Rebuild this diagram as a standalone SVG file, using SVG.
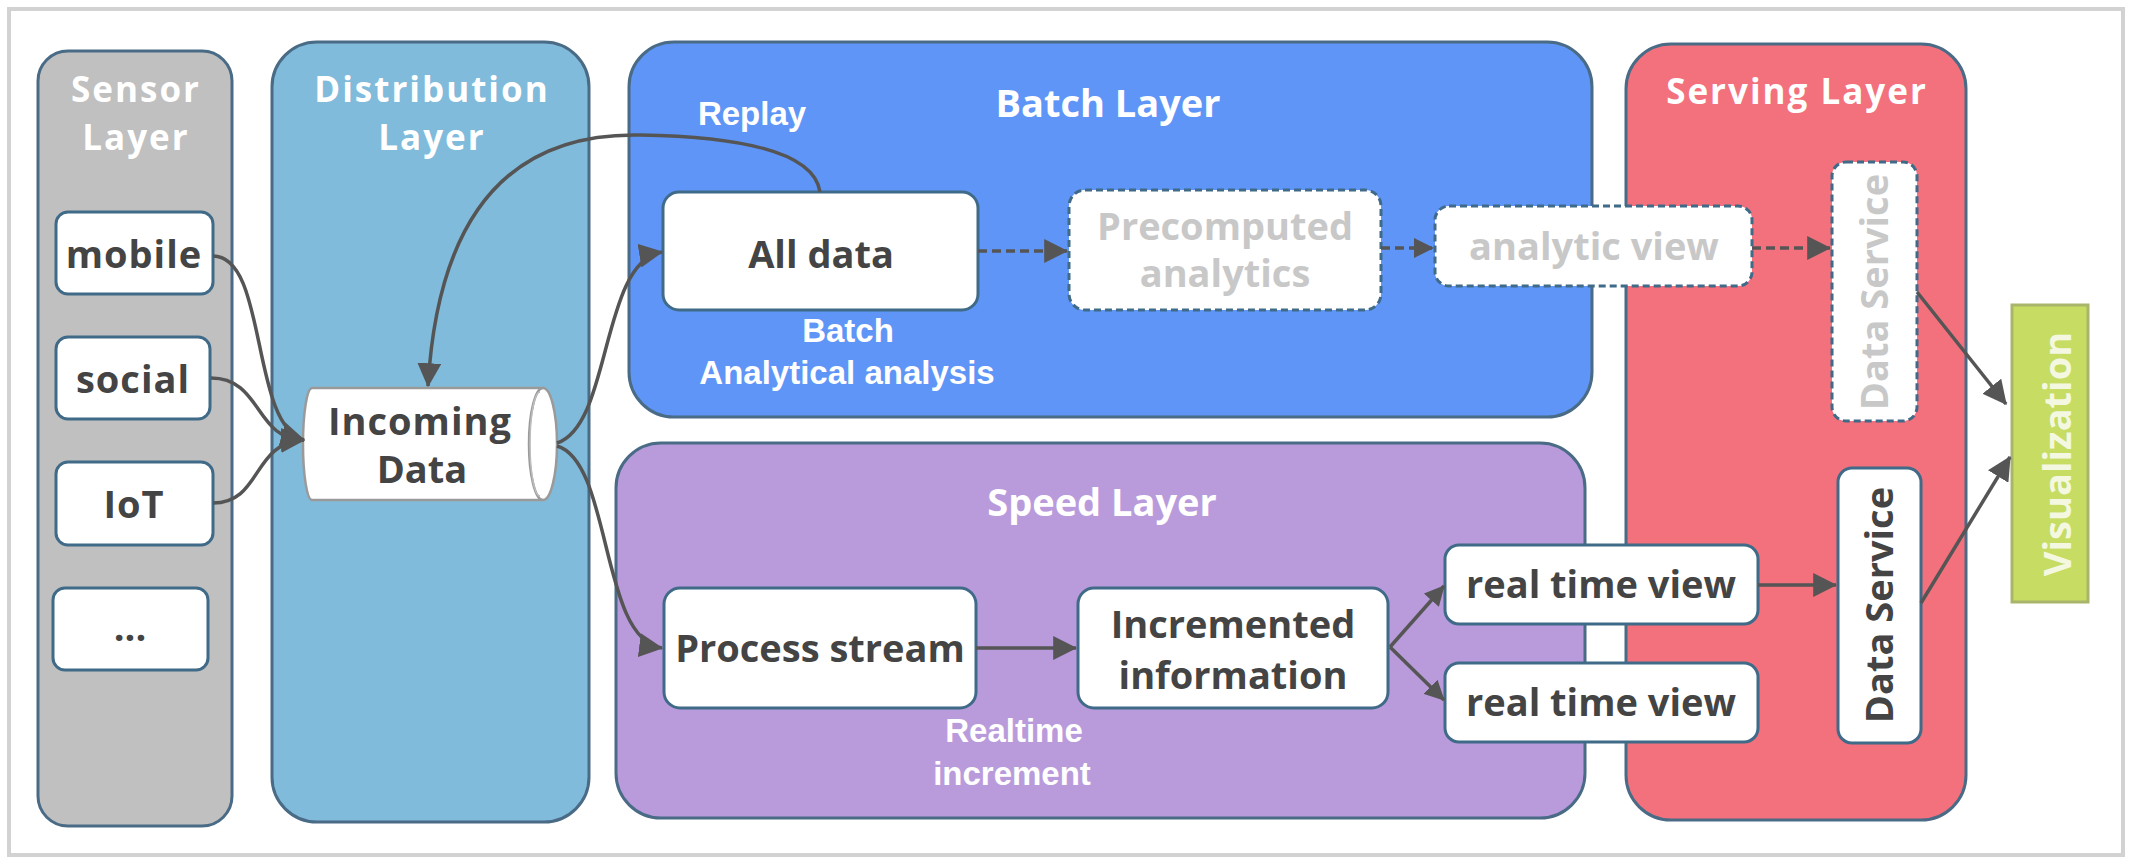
<svg xmlns="http://www.w3.org/2000/svg" width="2132" height="863" viewBox="0 0 2132 863">
<defs>
<marker id="arr" viewBox="0 0 20 20" refX="19" refY="10" markerWidth="24" markerHeight="24" markerUnits="userSpaceOnUse" orient="auto">
<path d="M0,0 L20,10 L0,20 Z" fill="#555"/>
</marker>
<marker id="arrs" viewBox="0 0 20 20" refX="19" refY="10" markerWidth="20" markerHeight="20" markerUnits="userSpaceOnUse" orient="auto">
<path d="M0,0 L20,10 L0,20 Z" fill="#555"/>
</marker>
</defs>
<style>
.layer{stroke:#4a6b86;stroke-width:3}
.box{fill:#fff;stroke:#3f6a88;stroke-width:3}
.dbox{fill:#fff;stroke:#3f6a88;stroke-width:3;stroke-dasharray:7 4}
.title{font-family:"Open Sans","Noto Sans",sans-serif;font-weight:bold;font-size:38px;fill:#fff;text-anchor:middle}
.title2{font-family:"Open Sans","Noto Sans",sans-serif;font-weight:bold;font-size:35px;letter-spacing:2px;fill:#fff;text-anchor:middle}
.note{font-family:"Liberation Sans",Arial,sans-serif;font-weight:bold;font-size:33px;fill:#fff;text-anchor:middle}
.lbl{font-family:"Open Sans","Noto Sans",sans-serif;font-weight:bold;font-size:38px;fill:#444;text-anchor:middle}
.glbl{font-family:"Open Sans","Noto Sans",sans-serif;font-weight:bold;font-size:38px;fill:#c8c8c8;text-anchor:middle}
.con{fill:none;stroke:#555;stroke-width:3.5}
.dcon{fill:none;stroke:#555;stroke-width:3.5;stroke-dasharray:9 5}
</style>
<rect x="0" y="0" width="2132" height="863" fill="#fff"/>
<rect x="9" y="9" width="2114" height="846" fill="#fff" stroke="#d2d2d2" stroke-width="4"/>

<g id="sensor-layer">
<rect class="layer" x="38" y="51" width="194" height="775" rx="30" fill="#c0c0c0"/>
<text class="title2" x="136" y="102">Sensor</text>
<text class="title2" x="136" y="150">Layer</text>
</g>
<g id="distribution-layer">
<rect class="layer" x="272" y="42" width="317" height="780" rx="45" fill="#80bbdb"/>
<text class="title2" x="432" y="102">Distribution</text>
<text class="title2" x="432" y="150">Layer</text>
</g>
<g id="batch-layer">
<rect class="layer" x="629" y="42" width="963" height="375" rx="45" fill="#5f95f6"/>
<text class="title" x="1108" y="117">Batch Layer</text>
<text class="note" x="752" y="125">Replay</text>
<text class="note" x="848" y="342">Batch</text>
<text class="note" x="847" y="384">Analytical analysis</text>
</g>
<g id="speed-layer">
<rect class="layer" x="616" y="443" width="969" height="375" rx="45" fill="#b99bdc"/>
<text class="title" x="1102" y="516">Speed Layer</text>
<text class="note" x="1014" y="742">Realtime</text>
<text class="note" x="1012" y="785">increment</text>
</g>
<g id="serving-layer">
<rect class="layer" x="1626" y="44" width="340" height="776" rx="45" fill="#f2717d"/>
<text class="title2" x="1797" y="104">Serving Layer</text>
</g>

<g id="mobile"><rect class="box" x="56" y="212" width="157" height="82" rx="12"/><text class="lbl" x="134" y="268" letter-spacing="1">mobile</text></g>
<g id="social"><rect class="box" x="56" y="337" width="154" height="82" rx="12"/><text class="lbl" x="133" y="393" letter-spacing="1">social</text></g>
<g id="iot"><rect class="box" x="56" y="462" width="157" height="83" rx="12"/><text class="lbl" x="134" y="518" letter-spacing="1">IoT</text></g>
<g id="more"><rect class="box" x="53" y="588" width="155" height="82" rx="12"/><text class="lbl" x="130" y="641">...</text></g>

<g id="incoming-data">
<path d="M312,388 H543 A14,56 0 0 1 543,500 H312 A9,56 0 0 1 312,388 Z" fill="#fff" stroke="#9a9a9a" stroke-width="2.5"/>
<path d="M543,388 A14,56 0 0 0 543,500" fill="none" stroke="#9a9a9a" stroke-width="2.5"/>
<path d="M540,392 A10,52 0 0 0 540,496" fill="none" stroke="#bdbdbd" stroke-width="1.5"/>
<text class="lbl" x="420" y="435" letter-spacing="1">Incoming</text>
<text class="lbl" x="422" y="483">Data</text>
</g>

<g id="all-data"><rect class="box" x="663" y="192" width="315" height="118" rx="16"/><text class="lbl" x="821" y="268">All data</text></g>
<g id="precomputed"><rect class="dbox" x="1069" y="190" width="312" height="120" rx="16"/><text class="glbl" x="1225" y="240">Precomputed</text><text class="glbl" x="1225" y="287">analytics</text></g>
<g id="analytic-view"><rect class="dbox" x="1435" y="206" width="317" height="80" rx="14"/><text class="glbl" x="1594" y="260">analytic view</text></g>
<g id="data-service-batch"><rect class="dbox" x="1832" y="162" width="85" height="259" rx="14"/><text class="glbl" transform="translate(1888,292) rotate(-90)" x="0" y="0">Data Service</text></g>

<g id="process-stream"><rect class="box" x="664" y="588" width="312" height="120" rx="16"/><text class="lbl" x="820" y="662">Process stream</text></g>
<g id="incremented"><rect class="box" x="1078" y="588" width="310" height="120" rx="16"/><text class="lbl" x="1233" y="638">Incremented</text><text class="lbl" x="1233" y="689">information</text></g>
<g id="rt-view-1"><rect class="box" x="1445" y="545" width="313" height="79" rx="14"/><text class="lbl" x="1601" y="598">real time view</text></g>
<g id="rt-view-2"><rect class="box" x="1445" y="663" width="313" height="79" rx="14"/><text class="lbl" x="1601" y="716">real time view</text></g>
<g id="data-service-speed"><rect class="box" x="1838" y="468" width="83" height="275" rx="14"/><text class="lbl" transform="translate(1893,605) rotate(-90)" x="0" y="0">Data Service</text></g>

<g id="visualization">
<rect x="2012" y="305" width="76" height="297" fill="#c6dc62" stroke="#a9b56a" stroke-width="3"/>
<text class="title" transform="translate(2071,454) rotate(-90)" x="0" y="0" style="fill:#f4f8e0">Visualization</text>
</g>

<g id="connectors">
<path class="con" d="M213,256 C268,256 250,425 304,440" marker-end="url(#arr)"/>
<path class="con" d="M211,378 C262,378 255,440 304,440" marker-end="url(#arr)"/>
<path class="con" d="M213,503 C262,503 252,442 304,440" marker-end="url(#arr)"/>
<path class="con" d="M820,192 C815,158 760,137 640,135 C540,133 440,180 428,386" marker-end="url(#arr)"/>
<path class="con" d="M557,443 C612,425 600,262 662,252" marker-end="url(#arr)"/>
<path class="con" d="M557,446 C612,462 600,640 662,648" marker-end="url(#arr)"/>
<path class="dcon" d="M978,251 H1067" marker-end="url(#arr)"/>
<path class="dcon" d="M1381,248 H1433" marker-end="url(#arrs)"/>
<path class="dcon" d="M1752,248 H1830" marker-end="url(#arr)"/>
<path class="con" d="M976,648 H1076" marker-end="url(#arr)"/>
<path class="con" d="M1390,647 L1444,586" marker-end="url(#arrs)"/>
<path class="con" d="M1390,647 L1444,700" marker-end="url(#arrs)"/>
<path class="con" d="M1758,585 H1836" marker-end="url(#arr)"/>
<path class="con" d="M1917,292 L2006,404" marker-end="url(#arr)"/>
<path class="con" d="M1921,603 L2010,457" marker-end="url(#arr)"/>
</g>
</svg>
